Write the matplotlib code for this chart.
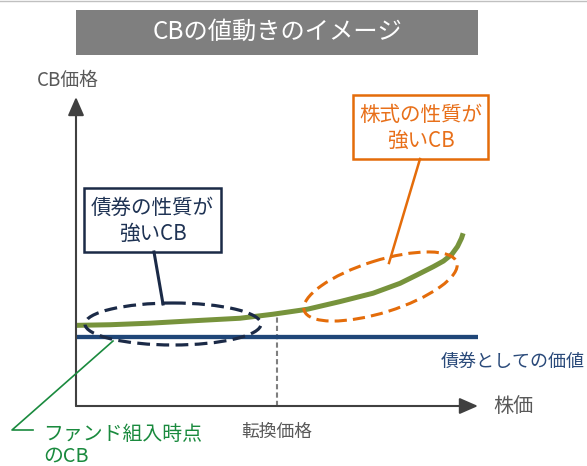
import matplotlib
matplotlib.use("Agg")
import matplotlib.pyplot as plt
from matplotlib.patches import Rectangle, Ellipse

plt.rcParams["font.family"] = ["Noto Sans CJK JP", "DejaVu Sans"]

# conceptual data (stock price on x, CB price on y, both 0-100)
stock_price = [0, 8.5, 18.4, 30.8, 40.8, 49.0, 57.5, 65.7, 73.9, 80.6, 84.8, 88.9,
               91.4, 93.5, 94.9, 95.9, 96.3]
cb_price = [26.1, 26.3, 26.8, 27.7, 28.4, 29.7, 31.3, 33.8, 36.5, 39.7, 42.4, 45.1,
            46.9, 49.1, 51.6, 54.3, 55.9]
bond_value = 22.3
conversion_price = 50.0
cb_at_conversion = 30.1

title = "CBの値動きのイメージ"
bond_label = "債券の性質が\n強いCB"
stock_label = "株式の性質が\n強いCB"

GRAY = "#595959"
NAVY = "#1b2a47"
ORANGE = "#e46c0a"
GREEN = "#1a8a3e"

W, H = 587, 466
fig = plt.figure(figsize=(W / 100, H / 100), dpi=100)

# plot area: origin at pixel (76, 406), top-right at (478, 97)
ax = fig.add_axes([76 / W, (H - 406) / H, 402 / W, 309 / H])
ax.set_xlim(0, 100)
ax.set_ylim(0, 100)
ax.axis("off")

ax.plot(stock_price, cb_price, color="#77933c", lw=3.6, solid_capstyle="butt",
        solid_joinstyle="round", zorder=3)
ax.plot([0, 100], [bond_value, bond_value], color="#1f4678", lw=3.1, zorder=2)
ax.plot([conversion_price, conversion_price], [0, cb_at_conversion], color="#7f7f7f",
        lw=1.5, ls=(0, (2.5, 1.5)), zorder=1)

arrow = dict(arrowstyle="-|>,head_width=0.35,head_length=0.8", color="#404040",
             lw=1.5, shrinkA=0, shrinkB=0, mutation_scale=14)
ax.annotate("", xy=(0, 1), xytext=(0, 0), xycoords="axes fraction",
            textcoords="axes fraction", arrowprops=arrow, annotation_clip=False)
ax.annotate("", xy=(1, 0), xytext=(0, 0), xycoords="axes fraction",
            textcoords="axes fraction", arrowprops=arrow, annotation_clip=False)

# overlay in pixel coordinates for labels and callouts
ov = fig.add_axes([0, 0, 1, 1], zorder=5)
ov.set_xlim(0, W)
ov.set_ylim(H, 0)
ov.axis("off")
ov.patch.set_alpha(0)

ov.plot([0, W], [1, 1], color="#c0c0c0", lw=1)
ov.add_patch(Rectangle((76, 10), 402, 45, fc="#7f7f7f", ec="none"))
ov.text(277, 32, title, color="white", fontsize=17.5, ha="center", va="center")

ov.text(37, 80, "CB価格", color=GRAY, fontsize=13.5, ha="left", va="center")
ov.text(493, 407, "株価", color=GRAY, fontsize=14.5, ha="left", va="center")
ov.text(277, 432, "転換価格", color=GRAY, fontsize=12.8, ha="center", va="center")
ov.text(585, 362, "債券としての価値", color="#2a4a7a", fontsize=13, ha="right", va="center")

# bond-like callout
ov.add_patch(Ellipse((173, 324), 176, 42, fill=False, ec=NAVY, lw=2.3, ls=(0, (4, 2))))
ov.plot([154, 163], [252, 304], color=NAVY, lw=2.2)
ov.add_patch(Rectangle((84, 188), 137, 64, fc="white", ec=NAVY, lw=1.8))
ov.text(152.5, 208, bond_label.split("\n")[0], color="#1f3354", fontsize=14.8, ha="center", va="center")
ov.text(152.5, 234, bond_label.split("\n")[1], color="#1f3354", fontsize=14.8, ha="center", va="center")

# stock-like callout
ov.add_patch(Ellipse((380.5, 286.5), 160, 52, angle=-17.5, fill=False, ec=ORANGE,
                     lw=2.2, ls=(0, (4, 2))))
ov.plot([420, 389], [159, 263], color=ORANGE, lw=1.8)
ov.add_patch(Rectangle((353, 95), 135, 64, fc="white", ec=ORANGE, lw=1.8))
ov.text(420.5, 115, stock_label.split("\n")[0], color="#e8701a", fontsize=14.8, ha="center", va="center")
ov.text(420.5, 141, stock_label.split("\n")[1], color="#e8701a", fontsize=14.8, ha="center", va="center")

# fund entry point
ov.plot([113, 12, 33], [341, 430, 430], color=GREEN, lw=1.2)
ov.text(43, 435, "ファンド組入時点", color=GREEN, fontsize=14.3, ha="left", va="center")
ov.text(43, 456, "のCB", color=GREEN, fontsize=14.3, ha="left", va="center")

fig.savefig("out.png", dpi=100)
